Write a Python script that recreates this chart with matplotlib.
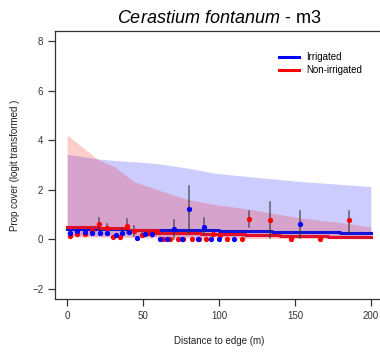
import matplotlib
matplotlib.use('Agg')
import matplotlib.pyplot as plt
from matplotlib.lines import Line2D

plt.rcParams['font.family'] = 'Liberation Sans'
plt.rcParams['mathtext.fontset'] = 'custom'
plt.rcParams['mathtext.it'] = 'Liberation Sans:italic'
plt.rcParams['mathtext.rm'] = 'Liberation Sans'

# confidence bands (upper / lower) along distance
band_x = [0, 10, 20, 31, 44, 57, 62, 79, 97, 120, 153, 180, 200]
irr_hi = [3.43, 3.34, 3.25, 3.18, 3.13, 3.07, 3.03, 2.88, 2.67, 2.53, 2.34, 2.22, 2.13]
irr_lo = [0.15, 0.15, 0.14, 0.14, 0.13, 0.13, 0.12, 0.12, 0.12, 0.11, 0.11, 0.10, 0.10]
non_hi = [4.21, 3.72, 3.23, 2.94, 2.33, 2.06, 1.95, 1.62, 1.41, 1.22, 0.87, 0.68, 0.50]
non_lo = [0.10, 0.10, 0.09, 0.08, 0.07, 0.06, 0.06, 0.05, 0.05, 0.04, 0.04, 0.03, 0.03]

# fitted lines
irr_line_x = [0, 20, 40, 60, 100, 135, 180, 200]
irr_line_y = [0.43, 0.41, 0.39, 0.38, 0.36, 0.31, 0.27, 0.27]
non_line_x = [0, 20, 40, 60, 88, 117, 140, 172, 200]
non_line_y = [0.50, 0.45, 0.38, 0.27, 0.22, 0.18, 0.15, 0.10, 0.10]

# observed means with error bars
irr_d = [1.8, 6.6, 11.7, 16.5, 21.4, 26.5, 32, 36, 40.8, 46, 51, 56, 61, 65.5,
         70.5, 75.5, 80.5, 86, 90.4, 94.8, 100, 109.8, 153.6]
irr_v = [0.27, 0.35, 0.31, 0.27, 0.27, 0.25, 0.18, 0.27, 0.31, 0.04, 0.21, 0.21, 0.03, 0.03,
         0.41, 0.03, 1.21, 0.03, 0.51, 0.03, 0.03, 0.03, 0.61]
irr_lo_e = [0.27, 0.35, 0.31, 0.17, 0.27, 0.25, 0.18, 0.12, 0.31, 0.04, 0.21, 0.10, 0.03, 0.03,
            0.00, 0.03, 0.27, 0.03, 0.20, 0.03, 0.03, 0.03, 0.05]
irr_hi_e = [0.27, 0.35, 0.31, 0.37, 0.27, 0.25, 0.18, 0.42, 0.31, 0.04, 0.21, 0.32, 0.03, 0.03,
            0.78, 0.03, 2.15, 0.03, 0.85, 0.03, 0.03, 0.03, 1.15]

non_d = [1.8, 6.6, 11.7, 16.5, 21, 26, 30, 35, 39.7, 44, 49, 53.6, 58.4, 63, 67.8, 73,
         76.5, 82, 86.6, 91.5, 96, 100.7, 105.4, 115, 119.5, 133.4, 147.7, 166.4, 185.4]
non_v = [0.15, 0.20, 0.22, 0.35, 0.61, 0.45, 0.11, 0.08, 0.53, 0.36, 0.19, 0.24, 0.29, 0.02, 0.02, 0.02,
         0.02, 0.02, 0.02, 0.02, 0.21, 0.18, 0.03, 0.03, 0.81, 0.78, 0.03, 0.03, 0.78]
non_lo_e = [0.15, 0.20, 0.22, 0.35, 0.40, 0.30, 0.11, 0.08, 0.25, 0.15, 0.08, 0.24, 0.29, 0.02, 0.02, 0.02,
            0.02, 0.02, 0.02, 0.02, 0.21, 0.18, 0.03, 0.03, 0.49, 0.05, 0.03, 0.03, 0.25]
non_hi_e = [0.15, 0.20, 0.22, 0.35, 0.85, 0.62, 0.11, 0.08, 0.81, 0.55, 0.30, 0.24, 0.29, 0.02, 0.02, 0.02,
            0.02, 0.02, 0.02, 0.02, 0.21, 0.18, 0.03, 0.03, 1.15, 1.51, 0.03, 0.03, 1.15]

fig = plt.figure(figsize=(3.8, 3.52), dpi=100)
ax = fig.add_axes([55 / 380, 1 - 299 / 352, 328 / 380, 268 / 352])

ax.fill_between(band_x, irr_lo, irr_hi, color='blue', alpha=0.2, lw=0)
ax.fill_between(band_x, non_lo, non_hi, color='red', alpha=0.2, lw=0)

ax.step(irr_line_x, irr_line_y, where='post', color='#1414d8', lw=2.2)
ax.step(non_line_x, non_line_y, where='post', color='#e0102a', lw=2.2)

for d, lo, hi in zip(irr_d, irr_lo_e, irr_hi_e):
    if hi > lo:
        ax.plot([d, d], [lo, hi], color='#303030', alpha=0.7, lw=1.1)
for d, lo, hi in zip(non_d, non_lo_e, non_hi_e):
    if hi > lo:
        ax.plot([d, d], [lo, hi], color='#303030', alpha=0.7, lw=1.1)

ax.plot(non_d, non_v, 'o', color='red', ms=3.8, mec='none')
ax.plot(irr_d, irr_v, 'o', color='blue', ms=3.8, mec='none')

ax.set_xlim(-8, 208)
ax.set_ylim(-2.4, 8.4)
ax.set_xticks([0, 50, 100, 150, 200])
ax.set_yticks([-2, 0, 2, 4, 6, 8])
ax.tick_params(labelsize=7, colors='#333333', length=5, width=0.9)
for s in ax.spines.values():
    s.set_color('#333333')
    s.set_linewidth(0.9)

ax.set_xlabel('Distance to edge (m)', fontsize=7, color='#222222', labelpad=11)
ax.set_ylabel('Prop cover (logit transformed )', fontsize=7, color='#222222', labelpad=9)
ax.set_title(r'$\it{Cerastium\ fontanum}$ - m3', fontsize=13, pad=6)

handles = [Line2D([], [], color='blue', lw=2.2), Line2D([], [], color='red', lw=2.2)]
fig.legend(handles, ['Irrigated', 'Non-irrigated'], loc='upper left',
           bbox_to_anchor=(279 / 380, 1 - 52 / 352), frameon=False, fontsize=7,
           handlelength=2.1, handletextpad=0.7, labelspacing=0.3,
           borderpad=0, borderaxespad=0)

fig.savefig('out.png', dpi=100)
